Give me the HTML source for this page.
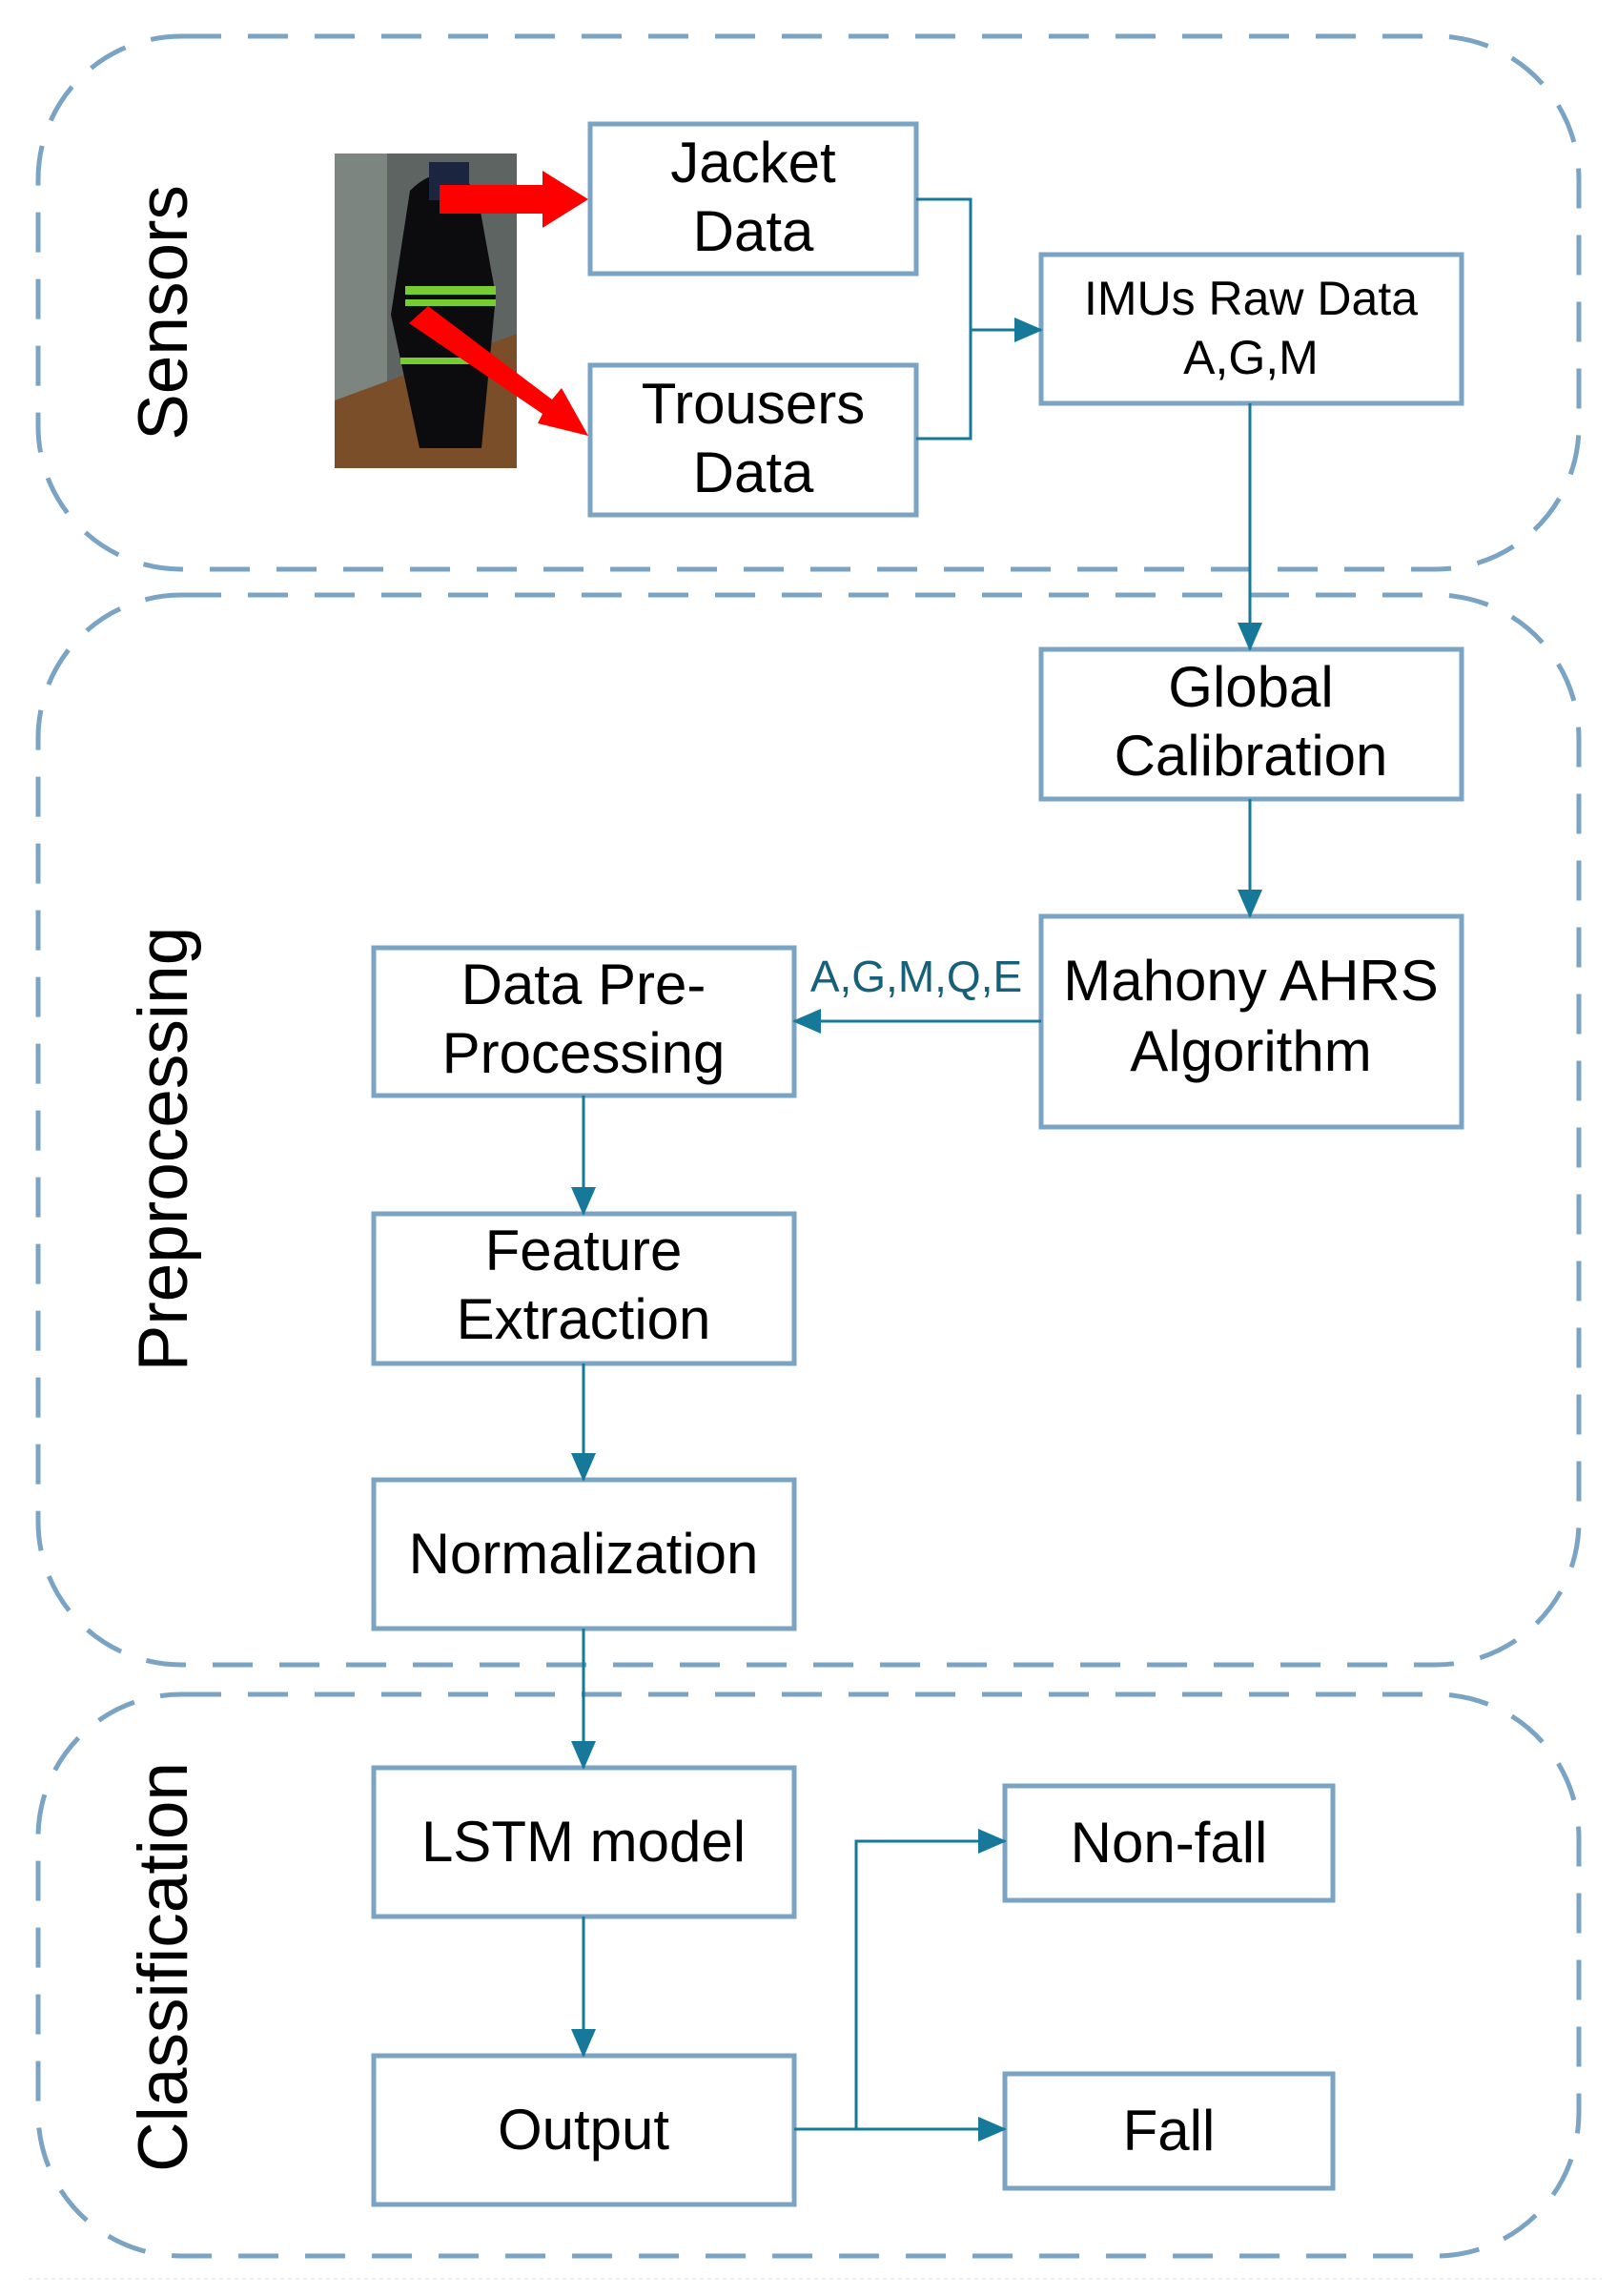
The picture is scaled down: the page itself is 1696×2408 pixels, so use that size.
<!DOCTYPE html>
<html><head><meta charset="utf-8"><style>
html,body{margin:0;padding:0;background:#fff;}
svg{display:block;}
text{font-family:"Liberation Sans",sans-serif;fill:#000;}
</style></head><body>
<svg width="1696" height="2408" viewBox="0 0 1696 2408" xmlns="http://www.w3.org/2000/svg">
<defs>
<marker id="am" markerWidth="30" markerHeight="30" refX="28" refY="15" orient="auto" markerUnits="userSpaceOnUse" viewBox="0 0 30 30">
<path d="M0,2 L30,15 L0,28 z" fill="#17799a"/></marker>
</defs>
<g fill="none" stroke="#7aa3c4" stroke-width="5" stroke-dasharray="42 28">
<rect x="40" y="38" width="1616" height="559" rx="150"/>
<rect x="40" y="624" width="1616" height="1122" rx="150"/>
<rect x="40" y="1777" width="1616" height="589" rx="150"/>
</g>
<line x1="30" y1="2390" x2="1680" y2="2390" stroke="#eee" stroke-width="2" stroke-dasharray="4 4"/>
<g fill="#fff" stroke="#7aa3c4" stroke-width="5">
<rect x="619" y="130" width="342" height="157"/>
<rect x="619" y="383" width="342" height="157"/>
<rect x="1092" y="267" width="441" height="156"/>
<rect x="1092" y="681" width="441" height="157"/>
<rect x="1092" y="961" width="441" height="221"/>
<rect x="392" y="994" width="441" height="155"/>
<rect x="392" y="1273" width="441" height="157"/>
<rect x="392" y="1552" width="441" height="156"/>
<rect x="392" y="1854" width="441" height="156"/>
<rect x="392" y="2156" width="441" height="156"/>
<rect x="1054" y="1873" width="344" height="120"/>
<rect x="1054" y="2175" width="344" height="120"/>
</g>
<rect x="351" y="161" width="191" height="330" fill="#5e6462"/>
<rect x="351" y="161" width="55" height="330" fill="#7d8581"/>
<polygon points="351,420 542,350 542,491 351,491" fill="#7a4e28"/>
<path d="M430,200 Q465,165 500,200 L520,310 L505,470 L440,470 L410,330 Z" fill="#0c0c0e"/>
<rect x="450" y="170" width="42" height="40" fill="#1b2540"/>
<rect x="425" y="300" width="95" height="9" fill="#7c3"/>
<rect x="425" y="314" width="95" height="7" fill="#7c3"/>
<rect x="420" y="375" width="100" height="7" fill="#7c3"/>
<g fill="#f00">
<polygon points="461,194 569,194 569,179 617,209 569,239 569,224 461,224"/>
<polygon points="429,339 449,321 579,419 589,407 617,457 564,444 569,434"/>
</g>
<g stroke="#17799a" stroke-width="3" fill="none">
<polyline points="961,209 1018,209 1018,460 961,460"/>
<line x1="1018" y1="346" x2="1092" y2="346" marker-end="url(#am)"/>
<line x1="1311" y1="423" x2="1311" y2="681" marker-end="url(#am)"/>
<line x1="1311" y1="838" x2="1311" y2="961" marker-end="url(#am)"/>
<line x1="1092" y1="1071" x2="833" y2="1071" marker-end="url(#am)"/>
<line x1="612" y1="1149" x2="612" y2="1273" marker-end="url(#am)"/>
<line x1="612" y1="1430" x2="612" y2="1552" marker-end="url(#am)"/>
<line x1="612" y1="1708" x2="612" y2="1854" marker-end="url(#am)"/>
<line x1="612" y1="2010" x2="612" y2="2156" marker-end="url(#am)"/>
<polyline points="833,2233 898,2233 898,1931 1054,1931" marker-end="url(#am)"/>
<line x1="898" y1="2233" x2="1054" y2="2233" marker-end="url(#am)"/>
</g>
<g font-size="60" text-anchor="middle">
<text x="790" y="191">Jacket</text><text x="790" y="263">Data</text>
<text x="790" y="444">Trousers</text><text x="790" y="516">Data</text>
<text x="1312" y="330" font-size="50">IMUs Raw Data</text><text x="1312" y="392" font-size="50">A,G,M</text>
<text x="1312" y="741">Global</text><text x="1312" y="813">Calibration</text>
<text x="1312" y="1049">Mahony AHRS</text><text x="1312" y="1123">Algorithm</text>
<text x="612" y="1053">Data Pre-</text><text x="612" y="1125">Processing</text>
<text x="612" y="1332">Feature</text><text x="612" y="1404">Extraction</text>
<text x="612" y="1650">Normalization</text>
<text x="612" y="1952">LSTM model</text>
<text x="612" y="2254">Output</text>
<text x="1226" y="1953">Non-fall</text>
<text x="1226" y="2255">Fall</text>
</g>
<text x="961" y="1040" font-size="46" text-anchor="middle" style="fill:#17607a">A,G,M,Q,E</text>
<g font-size="73" text-anchor="middle">
<text transform="translate(196,328) rotate(-90)">Sensors</text>
<text transform="translate(196,1205) rotate(-90)">Preprocessing</text>
<text transform="translate(196,2063) rotate(-90)">Classification</text>
</g>
</svg>
</body></html>
